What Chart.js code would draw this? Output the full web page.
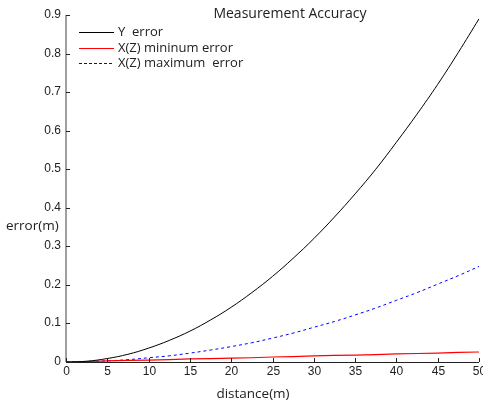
<!DOCTYPE html>
<html>
<head>
<meta charset="utf-8">
<script src="https://cdn.jsdelivr.net/npm/chart.js@4/dist/chart.umd.min.js"></script>
<style>
  html, body { margin: 0; padding: 0; background: #fff; }
  #wrap { width: 483px; height: 405px; }
</style>
</head>
<body>
<div id="wrap"><canvas id="grafico"></canvas></div>
<script>
// datos
const distancia = [0, 2.5, 5, 7.5, 10, 12.5, 15, 17.5, 20, 22.5, 25, 27.5, 30, 32.5, 35, 37.5, 40, 42.5, 45, 47.5, 50];
const errorY = [0, 0.002, 0.009, 0.02, 0.036, 0.056, 0.08, 0.109, 0.142, 0.18, 0.222, 0.269, 0.32, 0.376, 0.436, 0.5, 0.57, 0.643, 0.72, 0.803, 0.89];
const errorXZmin = [0, 0.001, 0.003, 0.004, 0.005, 0.006, 0.008, 0.009, 0.01, 0.011, 0.013, 0.014, 0.016, 0.017, 0.018, 0.019, 0.021, 0.022, 0.023, 0.025, 0.026];
const errorXZmax = [0, 0.001, 0.003, 0.006, 0.011, 0.016, 0.023, 0.031, 0.04, 0.05, 0.062, 0.075, 0.09, 0.105, 0.122, 0.14, 0.16, 0.18, 0.202, 0.224, 0.248];
const ticksX = [0, 5, 10, 15, 20, 25, 30, 35, 40, 45, 50];
const ticksY = [0, 0.1, 0.2, 0.3, 0.4, 0.5, 0.6, 0.7, 0.8, 0.9];
const leyenda = ['Y  error', 'X(Z) mininum error', 'X(Z) maximum  error'];

const puntos = arr => arr.map((v, i) => ({ x: distancia[i], y: v }));

// ejes, titulo y leyenda dibujados a mano
const ejesPlugin = {
    id: 'ejes',
    afterDraw(chart) {
        const ctx = chart.ctx;
        const a = chart.chartArea;
        const sx = chart.scales.x, sy = chart.scales.y;
        ctx.save();
        // eje y
        ctx.strokeStyle = '#7f7f7f';
        ctx.lineWidth = 1.5;
        ctx.beginPath();
        ctx.moveTo(a.left, a.top);
        ctx.lineTo(a.left, a.bottom);
        ctx.stroke();
        // eje x
        ctx.strokeStyle = '#222';
        ctx.lineWidth = 1;
        ctx.beginPath();
        ctx.moveTo(a.left, a.bottom + 0.5);
        ctx.lineTo(a.right, a.bottom + 0.5);
        ctx.stroke();

        ctx.font = '12px "Liberation Sans", Arial, sans-serif';
        ctx.fillStyle = '#222';
        // ticks y
        ctx.textAlign = 'right';
        ctx.textBaseline = 'middle';
        ticksY.forEach(v => {
            const py = Math.round(sy.getPixelForValue(v)) + 0.5;
            ctx.beginPath();
            ctx.moveTo(a.left, py);
            ctx.lineTo(a.left + 4, py);
            ctx.stroke();
            ctx.fillText(String(v), a.left - 5, py - 1);
        });
        // ticks x
        ctx.textAlign = 'center';
        ctx.textBaseline = 'top';
        ticksX.forEach(v => {
            const px = Math.round(sx.getPixelForValue(v)) + 0.5;
            ctx.beginPath();
            ctx.moveTo(px, a.bottom);
            ctx.lineTo(px, a.bottom - 4);
            ctx.stroke();
            ctx.fillText(String(v), px, a.bottom + 4);
        });

        // titulos
        ctx.fillStyle = '#222';
        ctx.textAlign = 'center';
        ctx.textBaseline = 'middle';
        ctx.font = '14px "Open Sans", sans-serif';
        ctx.fillText('Measurement Accuracy', 290, 14);
        ctx.font = '13.5px "Open Sans", sans-serif';
        ctx.fillText('distance(m)', 253, 394);
        ctx.textAlign = 'left';
        ctx.fillText('error(m)', 6, 226);

        // leyenda
        ctx.font = '13px "Open Sans", sans-serif';
        const colores = ['#000000', '#ff0000', '#0000ff'];
        const filas = [32, 48, 63];
        leyenda.forEach((t, i) => {
            ctx.strokeStyle = colores[i];
            ctx.lineWidth = 1;
            ctx.setLineDash(i === 2 ? [3, 2] : []);
            ctx.beginPath();
            ctx.moveTo(79, filas[i] + 0.5);
            ctx.lineTo(114, filas[i] + 0.5);
            ctx.stroke();
            ctx.setLineDash([]);
            ctx.fillStyle = '#222';
            ctx.fillText(t, 118, filas[i]);
        });
        ctx.restore();
    }
};

const ctx = document.getElementById('grafico').getContext('2d');
new Chart(ctx, {
    type: 'line',
    data: {
        datasets: [
            {
                label: leyenda[0],
                data: puntos(errorY),
                borderColor: '#000000',
                borderWidth: 1,
                pointRadius: 0,
                tension: 0.4,
                fill: false
            },
            {
                label: leyenda[1],
                data: puntos(errorXZmin),
                borderColor: '#ff0000',
                borderWidth: 1.2,
                pointRadius: 0,
                tension: 0,
                fill: false
            },
            {
                label: leyenda[2],
                data: puntos(errorXZmax),
                borderColor: '#0000ff',
                borderWidth: 1,
                borderDash: [3, 3],
                pointRadius: 0,
                tension: 0.4,
                fill: false
            }
        ]
    },
    options: {
        responsive: true,
        maintainAspectRatio: false,
        animation: false,
        layout: { padding: { left: 66, right: 4, top: 15, bottom: 43 } },
        plugins: { legend: { display: false }, tooltip: { enabled: false } },
        scales: {
            x: { type: 'linear', min: 0, max: 50, display: false },
            y: { type: 'linear', min: 0, max: 0.9, display: false }
        }
    },
    plugins: [ejesPlugin]
});
</script>
</body>
</html>
